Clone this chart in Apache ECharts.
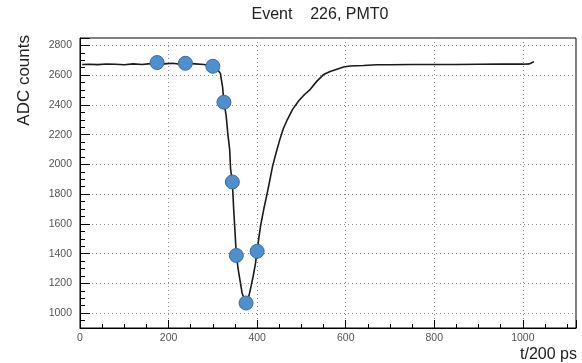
<!DOCTYPE html>
<html>
<head>
<meta charset="utf-8">
<style>
  html, body { margin: 0; padding: 0; background: #fff; }
  #chart { width: 582px; height: 363px; }
</style>
<script src="https://cdn.jsdelivr.net/npm/echarts@6/dist/echarts.min.js"></script>
</head>
<body>
<div id="chart"></div>
<script>
// Digitised PMT waveform: sample time (units of 200 ps) and ADC counts
const waveT = [5, 20, 40, 60, 80, 100, 120, 140, 160, 175, 190, 210, 225, 240, 260, 280,
  300, 310, 317, 322, 325, 330, 334, 338, 340, 344, 347, 351, 353, 357, 361, 366, 371, 375,
  379, 383, 387, 391, 396, 400, 404, 408, 415, 423, 429, 435, 443, 451, 459, 468, 480, 494,
  507, 520, 535, 550, 565, 580, 595, 610, 640, 670, 700, 750, 800, 850, 900, 950, 1000,
  1015, 1020, 1025];
const waveADC = [2672, 2674, 2671, 2675, 2673, 2670, 2676, 2672, 2678, 2684, 2676, 2680, 2674, 2680, 2676, 2672,
  2660, 2640, 2612, 2520, 2418, 2330, 2200, 2100, 1970, 1880, 1700, 1495, 1390, 1300, 1226, 1136, 1095, 1068,
  1090, 1136, 1190, 1248, 1330, 1416, 1510, 1590, 1700, 1810, 1900, 1990, 2080, 2165, 2240, 2300, 2370, 2428,
  2470, 2505, 2560, 2604, 2625, 2640, 2655, 2662, 2665, 2670, 2670, 2672, 2672, 2672, 2673, 2674, 2674,
  2676, 2684, 2690];

// Highlighted samples on the pulse
const sampleT = [174, 238, 300, 325, 344, 353, 375, 400];
const sampleADC = [2685, 2680, 2660, 2418, 1882, 1388, 1068, 1416];

const titleText = 'Event    226, PMT0';
const xTitle = 't/200 ps';
const yTitle = 'ADC counts';

const waveData = waveT.map((t, i) => [t, waveADC[i]]);
const sampleData = sampleT.map((t, i) => [t, sampleADC[i]]);

const chart = echarts.init(document.getElementById('chart'), null, { renderer: 'canvas' });

const font = 'Liberation Sans, Arial, Helvetica, sans-serif';
const gridLine = { show: true, lineStyle: { color: '#8a8a8a', type: [1, 3], width: 1 } };
const plainNumber = v => String(v);

chart.setOption({
  animation: false,
  backgroundColor: '#fff',
  textStyle: { fontFamily: font },
  grid: {
    left: 80, right: 6, top: 38, bottom: 35,
    show: true, borderColor: '#000', borderWidth: 1, backgroundColor: 'transparent'
  },
  xAxis: {
    type: 'value',
    min: 0, max: 1120,
    splitNumber: 6,
    axisLine: { show: true, onZero: false, lineStyle: { color: '#000', width: 1 } },
    axisTick: { show: true, inside: true, length: 8, lineStyle: { color: '#000' } },
    minorTick: { show: true, splitNumber: 4, length: 4, lineStyle: { color: '#000' } },
    splitLine: gridLine,
    axisLabel: { fontSize: 10.5, color: '#555', margin: 5, showMaxLabel: false, fontFamily: font, formatter: plainNumber }
  },
  yAxis: {
    type: 'value',
    min: 900, max: 2850,
    splitNumber: 10,
    axisLine: { show: true, onZero: false, lineStyle: { color: '#000', width: 1 } },
    axisTick: { show: true, inside: true, length: 10, lineStyle: { color: '#000' } },
    minorTick: { show: true, splitNumber: 4, length: 5, lineStyle: { color: '#000' } },
    splitLine: gridLine,
    axisLabel: { fontSize: 10.5, color: '#555', margin: 8, showMinLabel: false, showMaxLabel: false, fontFamily: font, formatter: plainNumber }
  },
  graphic: [
    {
      type: 'text',
      x: 320, y: 15,
      style: { text: titleText, font: '16px ' + font, fill: '#222', align: 'center', verticalAlign: 'middle' }
    },
    {
      type: 'text',
      x: 577, y: 355,
      style: { text: xTitle, font: '16px ' + font, fill: '#222', align: 'right', verticalAlign: 'middle' }
    },
    {
      type: 'text',
      x: 24, y: 35,
      rotation: Math.PI / 2,
      style: { text: yTitle, font: '17px ' + font, fill: '#222', align: 'right', verticalAlign: 'middle' }
    }
  ],
  series: [
    {
      type: 'line',
      data: waveData,
      showSymbol: false,
      symbol: 'none',
      lineStyle: { color: '#1a1a1a', width: 1.6 },
      z: 2
    },
    {
      type: 'scatter',
      data: sampleData,
      symbol: 'circle',
      symbolSize: 14,
      itemStyle: { color: '#4F8FCF', borderColor: '#3A6E9E', borderWidth: 1, opacity: 1 },
      z: 3
    }
  ]
});
</script>
</body>
</html>
